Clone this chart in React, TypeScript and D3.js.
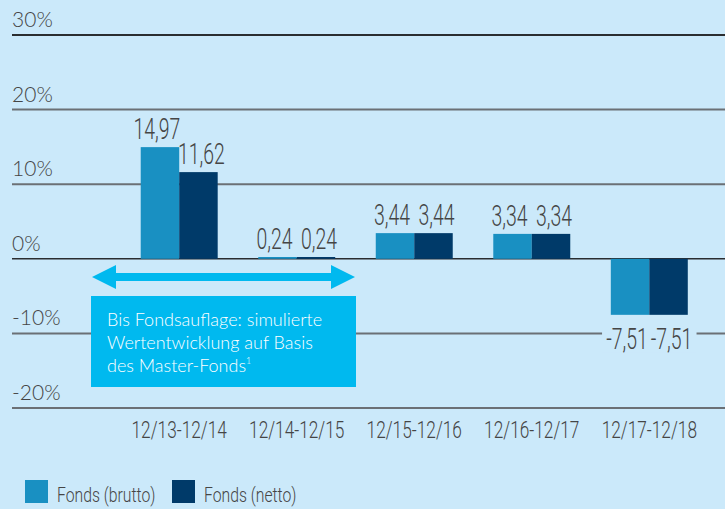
import React from "react";
import * as d3 from "d3";

const categories = ["12/13-12/14", "12/14-12/15", "12/15-12/16", "12/16-12/17", "12/17-12/18"];
const brutto = [14.97, 0.24, 3.44, 3.34, -7.51];
const netto = [11.62, 0.24, 3.44, 3.34, -7.51];
const yTicks = [30, 20, 10, 0, -10, -20];
const seriesNames = ["Fonds (brutto)", "Fonds (netto)"];
const noteLines = ["Bis Fondsauflage: simulierte", "Wertentwicklung auf Basis", "des Master-Fonds"];

const W = 725;
const H = 509;
const BG = "#cbe9fa";
const C1 = "#1990c2";
const C2 = "#003a69";
const CYAN = "#00b9ef";
const TXT = "#454545";
const COND = "Roboto, 'DejaVu Sans', sans-serif";
const GEO = "Lato, 'Open Sans', sans-serif";

const fmt = (v: number) => v.toFixed(2).replace(".", ",");

function CText(props: { x: number; y: number; sx: number; size: number; anchor?: string; children: React.ReactNode }) {
  const { x, y, sx, size, anchor, children } = props;
  return (
    <text
      x={0}
      y={0}
      textAnchor={anchor || "start"}
      fill={TXT}
      fontFamily={COND}
      fontWeight={300}
      fontSize={size}
      transform={`translate(${x},${y}) scale(${sx},1)`}
    >
      {children}
    </text>
  );
}

export default function App() {
  const y = d3.scaleLinear().domain([-20, 30]).range([408, 35]);
  const x0 = d3.scaleBand().domain(categories).range([120.5, 708]).paddingInner(0.345).paddingOuter(0.172);
  const x1 = d3.scaleBand().domain(["b", "n"]).range([0, x0.bandwidth()]);
  const bw = x1.bandwidth();
  const zero = y(0);

  const labelW = (s: string) => s.length * 9.2;

  return (
    <svg width={W} height={H} style={{ position: "absolute", left: 0, top: 0, display: "block" }}>
      <rect x={0} y={0} width={W} height={H} fill={BG} />
      {yTicks.map((t) => (
        <g key={t}>
          <line x1={12} x2={W} y1={y(t)} y2={y(t)} stroke={t === 0 || t === 30 ? "#2a2d30" : "#6b7075"} strokeWidth={t === 0 ? 1.5 : 2} />
          <text x={12} y={y(t) - 8} fill={TXT} fontFamily={GEO} fontSize={21} fontWeight={300}>
            {t}%
          </text>
        </g>
      ))}
      {categories.map((c, i) => {
        const gx = x0(c)!;
        const vals = [brutto[i], netto[i]];
        return (
          <g key={c}>
            {vals.map((v, j) => {
              const bx = gx + x1(j === 0 ? "b" : "n")!;
              const top = Math.min(y(v), zero);
              const h = Math.abs(y(v) - zero);
              const cx = bx + bw / 2 + (j === 0 ? -3 : 3);
              const s = fmt(v);
              const ly = v >= 0 ? y(v) - 8 : y(v) + 34;
              return (
                <g key={j}>
                  <rect x={bx} y={top} width={bw} height={h} fill={j === 0 ? C1 : C2} />
                  {v < 0 && <rect x={cx - labelW(s) / 2 - 2} y={ly - 20} width={labelW(s) + 4} height={24} fill={BG} />}
                  <CText x={cx} y={ly} sx={0.67} size={29} anchor="middle">
                    {s}
                  </CText>
                </g>
              );
            })}
            <CText x={gx + x0.bandwidth() / 2} y={438} sx={0.72} size={24} anchor="middle">
              {c}
            </CText>
          </g>
        );
      })}
      {/* arrow */}
      <path d="M92,277 L116,265 L116,273 L331,273 L331,265 L355,277 L331,289 L331,281 L116,281 L116,289 Z" fill={CYAN} />
      <rect x={91} y={296} width={265} height={91} fill={CYAN} />
      {noteLines.map((l, i) => (
        <text key={i} x={107} y={326 + i * 23} fill="#ffffff" fontFamily={GEO} fontSize={18} fontWeight={300}>
          {l}
          {i === 2 && <tspan fontSize={9} dy={-8}>1</tspan>}
        </text>
      ))}
      {/* legend */}
      {seriesNames.map((n, i) => (
        <g key={n}>
          <rect x={25 + i * 147} y={480} width={23} height={23} fill={i === 0 ? C1 : C2} />
          <CText x={57 + i * 147} y={502} sx={0.75} size={21}>
            {n}
          </CText>
        </g>
      ))}
    </svg>
  );
}
